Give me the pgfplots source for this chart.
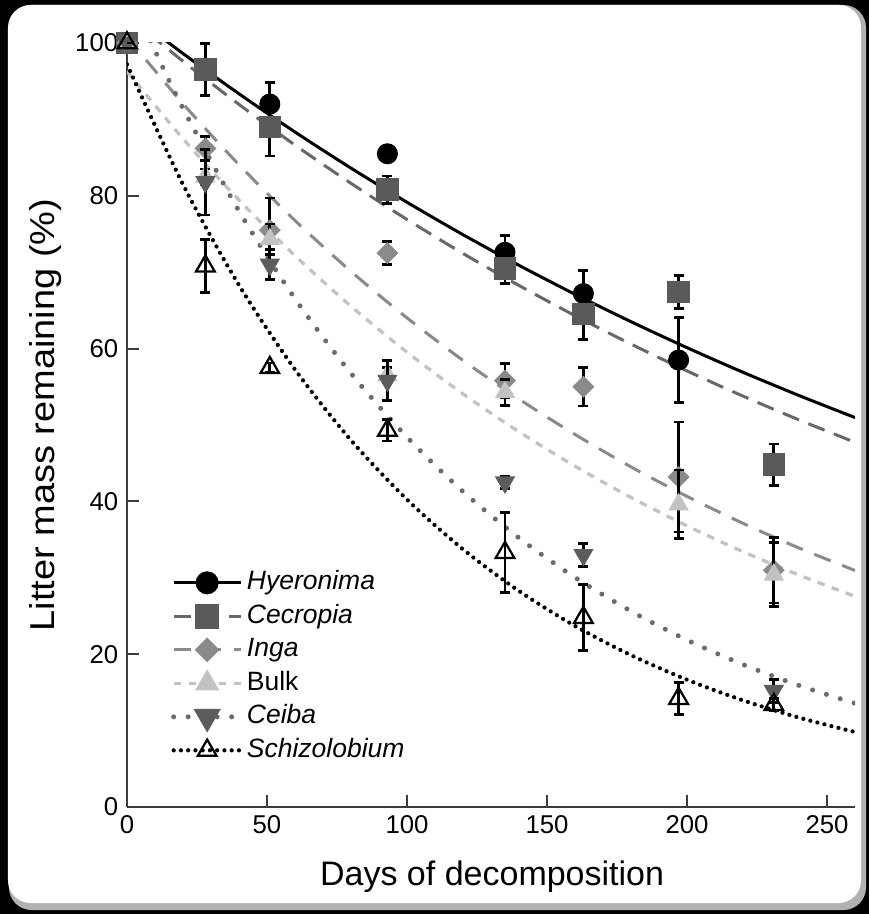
\documentclass[border=0pt]{standalone}
\usepackage{fontspec}
\setmainfont{Liberation Sans}
\usepackage{pgfplots}
\pgfplotsset{compat=1.18}

\definecolor{axisgray}{HTML}{3C3C3C}
\definecolor{cecro}{HTML}{5A5A5A}
\definecolor{cecroline}{HTML}{686868}
\definecolor{inga}{HTML}{8A8A8A}
\definecolor{bulk}{HTML}{C2C2C2}
\definecolor{ceiba}{HTML}{5C5C5C}
\definecolor{ceibaline}{HTML}{6A6A6A}

\begin{document}
\begin{tikzpicture}
% frame round the chart
\fill[black] (-50.8pt,-42.8pt) rectangle (296.8pt,322.8pt);
\fill[gray!60, rounded corners=9pt] (-47.2pt,-41.2pt) rectangle (295.6pt,320.8pt);
\fill[white, rounded corners=9pt] (-47.6pt,-38.4pt) rectangle (293.6pt,320.8pt);

\begin{axis}[
    scale only axis,
    width=291.2pt, height=305.6pt,
    xmin=0, xmax=260, ymin=0, ymax=100,
    axis x line*=bottom, axis y line*=left,
    axis line style={axisgray, line width=0.8pt},
    tick style={axisgray, line width=0.8pt},
    tick align=inside,
    major tick length=4.8pt,
    xtick={0,50,...,250}, ytick={0,20,...,100},
    /pgf/number format/assume math mode=true,
    tick label style={font=\fontsize{10.3}{12}\selectfont},
    xlabel={Days of decomposition},
    ylabel={Litter mass remaining (\%)},
    xlabel style={font=\fontsize{13.6}{16}\selectfont, at={(axis description cs:0.5015,-0.0916)}, anchor=center},
    ylabel style={font=\fontsize{13.8}{16}\selectfont, at={(axis description cs:-0.112,0.513)}, anchor=center, xscale=1.1},
    clip mode=individual,
    legend cell align=left,
    legend style={draw=none, fill=none, at={(axis description cs:0.06,0.316)}, anchor=north west,
        font=\fontsize{10.6}{12}\selectfont, inner sep=0pt, row sep=0pt,
        nodes={inner sep=1.5pt, text height=7.9pt, text depth=2.5pt}},
    legend image code/.code={\draw[mark repeat=2, mark phase=2] plot coordinates {(0pt,0pt) (13.4pt,0pt) (26.8pt,0pt)};},
    ebar/.style={error bars/.cd, y dir=both, y explicit, error mark=-,
        error bar style={black, line width=1.1pt, solid},
        error mark options={rotate=90, black, line width=1.1pt, mark size=2pt, solid}, /pgfplots/.cd},
]

% fitted decay curves
\addplot[black, line width=1.2pt, smooth, forget plot] coordinates {
(0,104.2) (20,98.62) (40,93.35) (60,88.35) (80,83.62) (100,79.15) (120,74.91)
(140,70.90) (160,67.11) (180,63.52) (200,60.12) (220,56.90) (240,53.86) (260,50.97)};
\addplot[cecroline, line width=1.2pt, dash pattern=on 7pt off 4pt, smooth, forget plot] coordinates {
(0,103.6) (20,97.61) (40,91.96) (60,86.64) (80,81.63) (100,76.90) (120,72.45)
(140,68.26) (160,64.31) (180,60.59) (200,57.08) (220,53.78) (240,50.67) (260,47.74)};
\addplot[inga, line width=1.2pt, dash pattern=on 7pt off 5pt, smooth, forget plot] coordinates {
(0,100.8) (20,92.05) (40,84.06) (60,76.76) (80,70.10) (100,64.02) (120,58.46)
(140,53.39) (160,48.76) (180,44.52) (200,40.66) (220,37.13) (240,33.90) (260,30.96)};
\addplot[bulk, line width=1.3pt, dash pattern=on 3pt off 3pt, smooth, forget plot] coordinates {
(0,96.3) (20,87.47) (40,79.44) (60,72.16) (80,65.54) (100,59.53) (120,54.07)
(140,49.11) (160,44.61) (180,40.52) (200,36.80) (220,33.42) (240,30.36) (260,27.57)};
\addplot[ceibaline, line width=2pt, line cap=round, dash pattern=on 0pt off 5.8pt, smooth, forget plot] coordinates {
(0,107.2) (10,99.01) (20,91.44) (40,78.00) (60,66.53) (80,56.75) (100,48.41) (120,41.29)
(140,35.22) (160,30.05) (180,25.63) (200,21.86) (220,18.65) (240,15.91) (260,13.57)};
\addplot[black, line width=1.7pt, line cap=round, dash pattern=on 0pt off 2.9pt, smooth, forget plot] coordinates {
(0,97.2) (20,81.48) (40,68.30) (60,57.26) (80,48.00) (100,40.24) (120,33.73)
(140,28.27) (160,23.70) (180,19.87) (200,16.66) (220,13.96) (240,11.70) (260,9.81)};

% measured means with error bars
\addplot[forget plot, only marks, mark=*, mark size=4pt, mark options={draw=black, fill=black}, ebar] coordinates {
(0,100) +- (0,0)
(28,96.5) +- (0,1)
(51,92) +- (0,2.8)
(93,85.5) +- (0,0.8)
(135,72.6) +- (0,2.2)
(163,67.2) +- (0,3)
(197,58.5) +- (0,5.6)};
\addplot[forget plot, only marks, mark=square*, mark size=4.3pt, mark options={draw=cecro, fill=cecro}, ebar] coordinates {
(0,100) +- (0,0)
(28,96.5) +- (0,3.4)
(51,89) +- (0,3.8)
(93,80.8) +- (0,1.8)
(135,70.5) +- (0,2)
(163,64.5) +- (0,3.3)
(197,67.4) +- (0,2.2)
(231,44.8) +- (0,2.7)};
\addplot[forget plot, only marks, mark=square*, mark size=2.9pt, mark options={draw=inga, fill=inga, rotate=45}, ebar] coordinates {
(0,100) +- (0,0)
(28,86.2) +- (0,1.6)
(51,75.5) +- (0,4.2)
(93,72.5) +- (0,1.5)
(135,55.8) +- (0,2.2)
(163,55) +- (0,2.5)
(197,43.2) +- (0,7.2)
(231,31) +- (0,4.3)};
\addplot[forget plot, only marks, mark=triangle*, mark size=4.3pt, mark options={draw=bulk, fill=bulk}, ebar] coordinates {
(0,100) +- (0,0)
(28,82.5) +- (0,1)
(51,74.3) +- (0,2)
(93,56.5) +- (0,1)
(135,54.3) +- (0,1.7)
(197,39.6) +- (0,4.5)
(231,30.4) +- (0,4.2)};
\addplot[forget plot, only marks, mark=triangle*, mark size=4.3pt, mark options={draw=ceiba, fill=ceiba, rotate=180}, ebar] coordinates {
(0,100) +- (0,0)
(28,81.8) +- (0,4.3)
(51,71) +- (0,2)
(93,55.8) +- (0,2.6)
(135,42.5) +- (0,0.8)
(163,33) +- (0,1.5)
(231,15.2) +- (0,1.5)};
\addplot[forget plot, only marks, mark=triangle, mark size=4.3pt, mark options={draw=black, line width=0.9pt}, ebar] coordinates {
(0,100) +- (0,0)
(28,70.8) +- (0,3.5)
(51,57.5) +- (0,0.6)
(93,49.3) +- (0,1.4)
(135,33.3) +- (0,5.2)
(163,24.8) +- (0,4.3)
(197,14.2) +- (0,2.1)
(231,13.4) +- (0,0.8)};

% legend
\addlegendimage{black, line width=1.2pt, mark=*, mark size=4pt, mark options={solid, fill=black}}
\addlegendentry{\itshape Hyeronima}
\addlegendimage{cecroline, line width=1.2pt, dash pattern=on 7pt off 4pt, mark=square*, mark size=4.3pt, mark options={solid, draw=cecro, fill=cecro}}
\addlegendentry{\itshape Cecropia}
\addlegendimage{inga, line width=1.2pt, dash pattern=on 7pt off 5pt, mark=square*, mark size=2.9pt, mark options={solid, draw=inga, fill=inga, rotate=45}}
\addlegendentry{\itshape Inga}
\addlegendimage{bulk, line width=1.3pt, dash pattern=on 3pt off 3pt, mark=triangle*, mark size=4.3pt, mark options={solid, draw=bulk, fill=bulk}}
\addlegendentry{Bulk}
\addlegendimage{ceibaline, line width=2pt, line cap=round, dash pattern=on 0pt off 5.8pt, mark=triangle*, mark size=4.3pt, mark options={solid, draw=ceiba, fill=ceiba, rotate=180}}
\addlegendentry{\itshape Ceiba}
\addlegendimage{black, line width=1.7pt, line cap=round, dash pattern=on 0pt off 2.9pt, mark=triangle, mark size=4.3pt, mark options={solid, draw=black, line width=0.9pt, fill=white}}
\addlegendentry{\itshape Schizolobium}
\end{axis}
\pgfresetboundingbox
\path (-50.8pt,-42.8pt) rectangle (296.8pt,322.8pt);
\end{tikzpicture}
\end{document}
